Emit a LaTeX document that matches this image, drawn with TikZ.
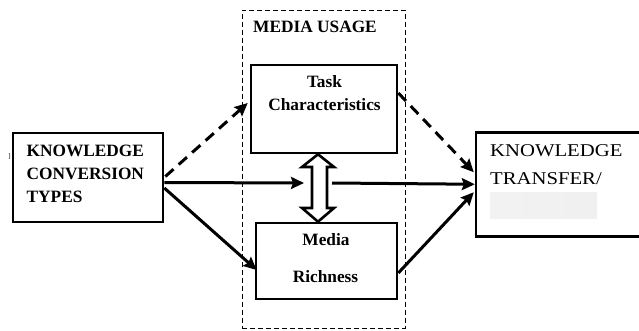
\documentclass[tikz,border=0pt]{standalone}
\usepackage{fontspec}
\setmainfont{Liberation Serif}
\newfontfamily\widefont[FakeStretch=1.15]{Liberation Serif}
\usetikzlibrary{arrows.meta,calc}
\begin{document}
\begin{tikzpicture}[x=1pt,y=-1pt,
  box/.style={draw, line width=2.6pt, inner sep=0pt},
  lbl/.style={font=\fontsize{17.3}{20}\selectfont\bfseries, inner sep=0pt},
  wlbl/.style={font=\widefont\fontsize{18}{20}\selectfont, inner sep=0pt},
  conn/.style={line width=3pt, -{Stealth[length=13pt,width=12pt,inset=2pt]}},
  dconn/.style={conn, dash pattern=on 11pt off 7pt},
  dbl/.style={line width=2.6pt, fill=white, line join=miter},
]
\useasboundingbox (0,0) rectangle (639,331);
\fill[white] (0,0) rectangle (639,331);

% dashed group
\node[draw, dash pattern=on 5pt off 3pt, line width=0.8pt, minimum width=163pt, minimum height=318pt, inner sep=0pt] (mu) at (323.5,169) {};
\node[lbl, anchor=base] (mutxt) at (315,32.5) {MEDIA USAGE};

% boxes
\node[box, minimum width=150pt, minimum height=89pt] (kct) at (88,177.5) {};
\node[box, minimum width=146pt, minimum height=88pt] (task) at (324,109) {};
\node[box, minimum width=141pt, minimum height=76pt] (media) at (326.5,261) {};
\node[inner sep=0pt, minimum width=204pt, minimum height=103.5pt] (kt) at (578,184.75) {};
\draw[line width=2.6pt, line join=miter] (kt.north east) -- (kt.north west) -- (kt.south west) -- (kt.south east);

% texts
\node[font=\fontsize{7}{8}\selectfont, inner sep=0pt, anchor=base] (mark) at (9.5,159) {]};
\node[lbl, anchor=base west] (k1) at (26.5,157) {KNOWLEDGE};
\node[lbl, anchor=base west] (k2) at (26.5,179) {CONVERSION};
\node[lbl, anchor=base west] (k3) at (26.5,202) {TYPES};
\node[lbl, anchor=base] (t1) at (324.5,88) {Task};
\node[lbl, anchor=base] (t2) at (324.5,110.5) {Characteristics};
\node[lbl, anchor=base] (m1) at (326,245) {Media};
\node[lbl, anchor=base] (m2) at (325.5,282.5) {Richness};
\node[wlbl, anchor=base west] (r1) at (490,156.5) {KNOWLEDGE};
\node[wlbl, anchor=base west] (r2) at (490,184) {TRANSFER/};
\shade[left color=gray!10, middle color=gray!30, right color=gray!12] (490,192) rectangle (597,218);

% double arrow between task and media
\draw[dbl] (task.south -| 318,0) -- (334,167) -- (327,167) -- (327,208) -- (334,208)
  -- (media.north -| 318,0) -- (302,208) -- (312,208) -- (312,167) -- (302,167) -- cycle;

\coordinate (dl) at (304,183);
\coordinate (dr) at (332,183);

% connectors
\draw[dconn] ($(kct.east)+(1,-1)$) -- ($(task.west)+(-2,-6)$);
\draw[conn] ($(kct.east)+(0,5)$) -- (dl);
\draw[conn] ($(kct.east)+(0,10.5)$) -- ($(media.west)+(2,9)$);
\draw[conn] (dr) -- ($(kt.west)+(-1,-0.5)$);
\draw[dconn] ($(task.east)+(0,-16)$) -- ($(kt.west)+(-2,-12.5)$);
\draw[conn] ($(media.east)+(0,12)$) -- ($(kt.west)+(-2,7.5)$);
\end{tikzpicture}
\end{document}
